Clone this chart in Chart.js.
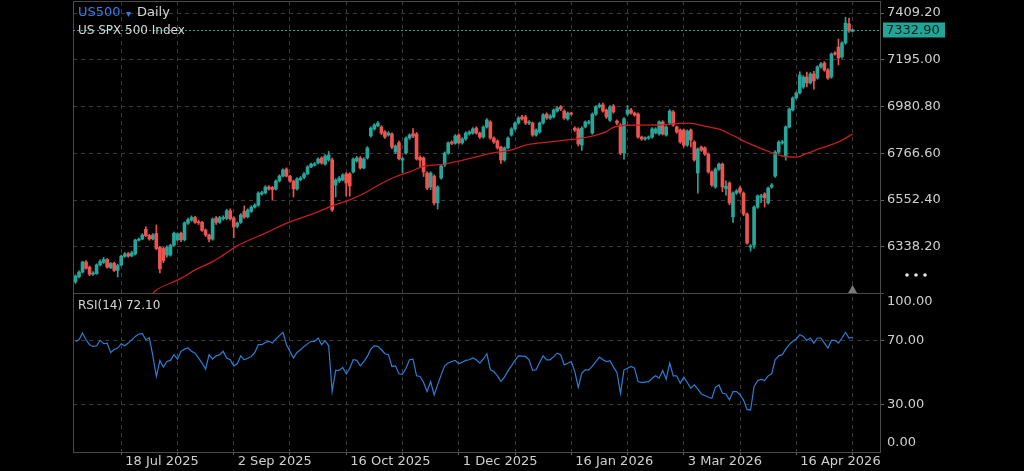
<!DOCTYPE html>
<html>
<head>
<meta charset="utf-8">
<script src="https://cdn.jsdelivr.net/npm/chart.js@4.4.1/dist/chart.umd.min.js"></script>
<style>
  html, body { margin: 0; padding: 0; background: #000; }
  #c { display: block; }
</style>
</head>
<body>
<canvas id="c" width="1024" height="471"></canvas>
<script>
// daily candles, one per bar index (0 = early Jul 2025)
const open = [
  6177,6200,6222,6268,6245,6212,6215,6255,6266,6280,
  6242,6262,6230,6255,6294,6307,6296,6305,6368,6373,
  6418,6390,6374,6399,6335,6330,6300,6300,6345,6370,
  6400,6370,6446,6460,6472,6452,6450,6415,6392,6373,
  6470,6450,6467,6468,6503,6470,6432,6450,6500,6476,
  6500,6520,6529,6580,6585,6612,6610,6603,6640,6662,
  6694,6662,6639,6603,6645,6656,6672,6704,6712,6722,
  6745,6717,6736,6736,6621,6639,6644,6672,6672,6681,
  6731,6745,6699,6745,6846,6878,6892,6887,6864,6850,
  6855,6772,6815,6735,6768,6836,6856,6855,6748,6745,
  6676,6612,6662,6539,6653,6713,6768,6818,6812,6850,
  6814,6832,6855,6859,6882,6859,6841,6887,6910,6836,
  6823,6795,6736,6791,6850,6878,6905,6933,6933,6905,
  6905,6850,6864,6905,6946,6928,6933,6960,6979,6960,
  6924,6951,6882,6878,6804,6887,6905,6859,6946,6979,
  6988,6965,6918,6983,6914,6896,6768,6946,6965,6951,
  6946,6841,6832,6836,6841,6860,6855,6910,6850,6905,
  6956,6887,6873,6873,6804,6873,6818,6676,6795,6791,
  6763,6681,6612,6694,6717,6605,6630,6475,6584,6607,
  6584,6488,6337,6346,6520,6566,6580,6539,6612,6662,
  6772,6814,6750,6887,6965,7020,7043,7070,7116,7089,
  7130,7111,7162,7180,7148,7116,7226,7253,7208,7272,
  7359,7325
];
const high = [
  6210,6228,6272,6275,6250,6225,6260,6278,6290,6284,
  6266,6268,6258,6300,6312,6312,6318,6373,6378,6398,
  6430,6395,6398,6438,6340,6335,6342,6350,6405,6402,
  6405,6452,6470,6480,6478,6460,6455,6420,6396,6470,
  6476,6478,6480,6510,6512,6476,6452,6490,6525,6512,
  6526,6535,6590,6592,6618,6618,6615,6645,6668,6695,
  6700,6666,6643,6655,6660,6678,6710,6722,6724,6746,
  6750,6760,6775,6745,6650,6660,6673,6678,6678,6745,
  6752,6752,6746,6797,6888,6902,6912,6893,6870,6866,
  6860,6805,6822,6748,6842,6856,6880,6862,6755,6750,
  6682,6682,6668,6618,6714,6773,6819,6824,6852,6856,
  6838,6865,6870,6884,6888,6864,6892,6925,6916,6842,
  6828,6800,6796,6842,6884,6910,6934,6940,6940,6916,
  6910,6878,6910,6948,6952,6944,6970,6980,6985,6966,
  6956,6955,6888,6884,6888,6915,6918,6952,6985,6996,
  6996,6970,6985,6990,6920,6902,6930,6985,6972,6956,
  6952,6846,6842,6846,6884,6884,6915,6916,6892,6966,
  6962,6892,6878,6878,6874,6878,6824,6792,6800,6796,
  6768,6686,6700,6722,6722,6640,6636,6590,6600,6614,
  6590,6494,6348,6526,6576,6578,6586,6612,6628,6778,
  6824,6826,6892,6974,7025,7048,7140,7122,7138,7136,
  7142,7168,7182,7186,7154,7226,7232,7290,7278,7390,
  7386,7336
];
const low = [
  6170,6195,6218,6236,6205,6207,6212,6250,6262,6240,
  6238,6225,6200,6250,6290,6290,6292,6300,6364,6370,
  6385,6368,6370,6325,6218,6265,6290,6295,6340,6365,
  6362,6365,6440,6455,6445,6440,6408,6385,6360,6368,
  6440,6445,6460,6462,6460,6380,6425,6445,6468,6470,
  6495,6515,6524,6575,6580,6598,6552,6598,6635,6658,
  6658,6633,6566,6598,6640,6650,6668,6700,6708,6718,
  6716,6712,6730,6500,6566,6632,6640,6570,6570,6676,
  6726,6694,6695,6740,6840,6872,6888,6852,6835,6845,
  6788,6765,6736,6676,6762,6830,6838,6735,6705,6660,
  6600,6600,6530,6511,6648,6706,6762,6806,6808,6808,
  6808,6826,6850,6854,6854,6835,6836,6882,6830,6812,
  6785,6720,6730,6786,6845,6872,6900,6918,6898,6898,
  6844,6845,6858,6900,6922,6922,6928,6955,6962,6922,
  6918,6940,6866,6800,6780,6882,6900,6854,6940,6974,
  6955,6926,6912,6950,6898,6760,6740,6940,6946,6936,
  6836,6826,6826,6830,6836,6855,6850,6850,6845,6900,
  6890,6858,6812,6795,6798,6795,6730,6584,6775,6757,
  6675,6615,6606,6688,6590,6575,6530,6450,6578,6582,
  6480,6350,6318,6330,6514,6540,6520,6533,6606,6656,
  6766,6808,6735,6882,6960,7015,7038,7064,7070,7084,
  7060,7106,7156,7142,7105,7110,7216,7172,7202,7266,
  7320,7322
];
const close = [
  6204,6222,6268,6240,6212,6218,6255,6270,6280,6245,
  6262,6230,6252,6295,6305,6295,6310,6369,6373,6392,
  6389,6374,6392,6330,6237,6275,6336,6345,6400,6397,
  6370,6448,6462,6472,6450,6448,6413,6392,6373,6465,
  6450,6472,6470,6503,6466,6429,6447,6484,6474,6507,
  6520,6529,6584,6586,6612,6603,6600,6639,6662,6690,
  6662,6639,6603,6649,6653,6672,6704,6717,6718,6740,
  6722,6754,6759,6507,6644,6653,6667,6630,6617,6740,
  6745,6699,6740,6791,6882,6896,6905,6859,6841,6859,
  6795,6800,6742,6742,6836,6850,6845,6740,6735,6681,
  6607,6676,6539,6612,6708,6768,6814,6812,6846,6814,
  6832,6859,6864,6878,6859,6841,6887,6919,6836,6818,
  6791,6736,6791,6836,6878,6905,6928,6924,6905,6910,
  6850,6873,6905,6942,6928,6937,6965,6974,6969,6928,
  6951,6946,6873,6809,6882,6910,6910,6946,6979,6988,
  6960,6933,6979,6956,6905,6768,6924,6965,6951,6942,
  6841,6832,6836,6841,6878,6878,6910,6855,6887,6960,
  6896,6864,6818,6804,6868,6827,6736,6786,6781,6763,
  6681,6621,6694,6717,6612,6615,6539,6584,6594,6589,
  6488,6355,6342,6520,6571,6571,6562,6607,6621,6772,
  6818,6818,6887,6969,7020,7043,7125,7116,7089,7130,
  7098,7162,7176,7148,7111,7221,7221,7203,7272,7363,
  7327,7332.9
];

// moving average, read at these bars
const maBars = [22,23,30,34,39,42,46,54,61,68,73,78,82,87,91,95,99,105,109,114,
                118,124,128,133,137,146,151,153,157,165,174,180,183,187,191,196,201,205,208,212,217,221];
const maValues = [6126,6140,6193,6232,6270,6300,6342,6401,6452,6492,6525,6553,6582,6628,6659,6681,6706,6717,6731,6750,
                  6766,6782,6804,6815,6822,6842,6866,6885,6895,6896,6905,6887,6877,6848,6815,6782,6754,6749,6766,6790,6819,6854];

// RSI(14), one per bar
const rsi = [
  69.6,70.6,74.8,70.6,67.5,66.4,66.8,70.2,68.1,68.5,
  62.6,64.5,65.4,68.1,66.8,68.5,70.5,72.7,74.2,74.4,
  70.6,71.7,60.5,47.5,57.6,53.4,56.9,57.6,61.2,58.4,
  63.3,64.7,65.4,63.3,62.2,59.1,55.9,52.1,61.2,58.4,
  60.5,61.2,63.3,59.1,58.0,54.2,55.5,60.5,58.0,59.0,
  60.1,62.6,67.5,67.5,68.9,69.6,68.5,71.1,73.2,75.3,
  67.5,63.3,59.1,62.6,64.3,66.4,68.0,69.6,69.6,71.7,
  67.5,70.0,66.8,38.0,51.3,51.3,53.2,49.2,52.7,58.0,
  57.6,54.2,56.9,60.1,64.7,66.8,66.4,64.3,61.8,61.2,
  53.8,54.2,49.2,48.9,52.7,58.0,58.4,47.9,47.5,43.7,
  38.0,44.3,35.9,42.2,48.5,54.2,56.0,56.9,57.6,55.5,
  56.5,57.6,58.0,59.1,58.0,55.9,58.5,61.8,51.7,50.6,
  47.9,44.3,47.1,51.0,54.2,57.6,60.5,60.3,60.1,58.0,
  51.3,51.7,56.3,60.5,58.0,58.0,60.0,62.2,61.2,54.8,
  55.8,56.9,50.6,40.7,49.6,51.7,51.7,54.0,56.9,59.7,
  58.0,56.9,57.4,53.4,50.0,36.9,51.7,52.7,53.8,52.7,
  44.3,43.7,44.0,44.3,46.4,47.9,46.4,51.3,45.8,55.9,
  47.9,47.9,43.3,47.1,43.7,40.1,42.2,39.5,36.5,35.5,
  34.4,33.8,40.7,42.2,36.9,36.5,32.7,38.0,38.0,36.0,
  32.7,26.8,26.4,41.2,44.9,45.8,44.9,47.9,49.2,58.0,
  60.5,61.2,64.7,67.5,69.6,71.1,73.8,72.7,70.2,71.7,
  68.5,71.7,71.7,68.5,65.4,70.2,70.2,68.5,71.7,75.3,
  71.7,72.1
];

// axis ticks
const priceTicks = [6338.2, 6552.4, 6766.6, 6980.8, 7195.0, 7409.2];
const rsiTicks = [0, 30, 70, 100];
const gridBars = [13,29,45,61,77,93,109,125,141,157,173,189,205,221];
const labelBars = [13, 45, 77, 109, 141, 173, 205];
const xLabels = ['18 Jul 2025', '2 Sep 2025', '16 Oct 2025', '1 Dec 2025', '16 Jan 2026', '3 Mar 2026', '16 Apr 2026'];

const UP = '#26a69a', DOWN = '#ef5350';
const GRID = '#3a3a3a', LINE = '#4a4a4a', TXT = '#cfcfcf';
const FONT = '"DejaVu Sans", sans-serif';

Chart.defaults.font.family = FONT;
Chart.defaults.font.size = 13;
Chart.defaults.color = TXT;

const idx = close.map((c, i) => i);
const candleColors = close.map((c, i) => c >= open[i] ? UP : DOWN);

const overlay = {
  id: 'overlay',
  afterDraw(chart) {
    const { ctx, chartArea: a, scales } = chart;
    const py = scales.y, ry = scales.rsi;
    const last = close[close.length - 1];
    const ly = Math.round(py.getPixelForValue(last)) + 0.5;
    ctx.save();

    // frame + pane divider
    ctx.strokeStyle = LINE;
    ctx.lineWidth = 1;
    ctx.beginPath();
    ctx.moveTo(a.left + 0.5, a.bottom);
    ctx.lineTo(a.left + 0.5, a.top + 0.5);
    ctx.lineTo(a.right, a.top + 0.5);
    ctx.moveTo(a.left, Math.round(py.bottom) + 0.5);
    ctx.lineTo(a.right + 4, Math.round(py.bottom) + 0.5);
    ctx.stroke();

    // last price line + tag
    ctx.strokeStyle = UP;
    ctx.setLineDash([2, 2]);
    ctx.beginPath();
    ctx.moveTo(a.left, ly);
    ctx.lineTo(a.right, ly);
    ctx.stroke();
    ctx.setLineDash([]);
    ctx.fillStyle = '#22a596';
    ctx.fillRect(a.right + 3, ly - 8, 62, 15);
    ctx.font = '13px ' + FONT;
    ctx.textBaseline = 'middle';
    ctx.textAlign = 'left';
    ctx.fillStyle = '#0b2420';
    ctx.fillText(last.toFixed(2), a.right + 6, ly);

    // RSI pane end labels
    ctx.fillStyle = TXT;
    ctx.fillText('100.00', a.right + 7, ry.getPixelForValue(100) + 9);
    ctx.fillText('0.00', a.right + 7, ry.getPixelForValue(0) - 9);

    // titles
    ctx.fillStyle = '#2f80ed';
    ctx.fillText('US500', a.left + 5, 13);
    ctx.font = '10px ' + FONT;
    ctx.fillText('▾', a.left + 53, 14);
    ctx.font = '13px ' + FONT;
    ctx.fillStyle = '#d6d6d6';
    ctx.fillText('Daily', a.left + 64, 13);
    ctx.font = '12px ' + FONT;
    ctx.fillText('US SPX 500 Index', a.left + 5, ly);
    ctx.fillText('RSI(14) ' + rsi[rsi.length - 1].toFixed(2), a.left + 5, ry.top + 13);

    // pane menu dots and collapse marker
    ctx.fillStyle = '#e8e8e8';
    for (let k = 0; k < 3; k++) {
      ctx.beginPath();
      ctx.arc(a.right + 27 + k * 9, 275, 1.8, 0, Math.PI * 2);
      ctx.fill();
    }
    ctx.fillStyle = '#7a7a7a';
    const tx = scales.x.getPixelForValue(idx[idx.length - 1]);
    ctx.beginPath();
    ctx.moveTo(tx - 4.5, py.bottom);
    ctx.lineTo(tx, py.bottom - 8);
    ctx.lineTo(tx + 4.5, py.bottom);
    ctx.closePath();
    ctx.fill();
    ctx.restore();
  }
};

new Chart(document.getElementById('c'), {
  type: 'bar',
  data: {
    datasets: [
      {
        type: 'line',
        label: 'MA',
        data: maBars.map((b, k) => ({ x: b, y: maValues[k] })),
        yAxisID: 'y',
        borderColor: '#c81e1e',
        borderWidth: 1.3,
        pointRadius: 0,
        cubicInterpolationMode: 'monotone',
        order: 0
      },
      {
        label: 'Body',
        data: idx.map(i => ({ x: i, y: [open[i], close[i]] })),
        yAxisID: 'y',
        backgroundColor: candleColors,
        barThickness: 3,
        minBarLength: 1,
        grouped: false,
        order: 1
      },
      {
        label: 'Wick',
        data: idx.map(i => ({ x: i, y: [low[i], high[i]] })),
        yAxisID: 'y',
        backgroundColor: candleColors,
        barThickness: 1,
        grouped: false,
        order: 2
      },
      {
        type: 'line',
        label: 'RSI',
        data: rsi.map((v, i) => ({ x: i, y: v })),
        yAxisID: 'rsi',
        borderColor: '#2a7fd5',
        borderWidth: 1.2,
        pointRadius: 0,
        tension: 0,
        order: 0
      }
    ]
  },
  options: {
    responsive: false,
    animation: false,
    events: [],
    layout: { padding: { left: 73, top: 1, right: 0, bottom: 0 }, autoPadding: false },
    plugins: { legend: { display: false }, tooltip: { enabled: false } },
    scales: {
      x: {
        type: 'linear',
        min: -0.711,
        max: 228.81,
        offset: false,
        afterBuildTicks: s => { s.ticks = gridBars.map(v => ({ value: v })); },
        afterFit: s => { s.height = 19; s.paddingLeft = 0; s.paddingRight = 0; },
        ticks: {
          autoSkip: false,
          maxRotation: 0,
          align: 'start',
          labelOffset: 4,
          padding: 0,
          font: { size: 13, lineHeight: 1 },
          callback: v => {
            const k = labelBars.indexOf(v);
            return k >= 0 ? xLabels[k] : '';
          }
        },
        grid: { color: GRID, offset: false, tickLength: 3, tickColor: '#666' },
        border: { color: LINE, dash: [4, 4] }
      },
      y: {
        type: 'linear',
        position: 'right',
        stack: 'panes',
        stackWeight: 292,
        min: 6126.3,
        max: 7464.2,
        afterBuildTicks: s => { s.ticks = priceTicks.map(v => ({ value: v })); },
        afterFit: s => { s.width = 144; s.paddingTop = 0; s.paddingBottom = 0; },
        ticks: { padding: 3, callback: v => v.toFixed(2) },
        grid: { color: GRID, tickLength: 4, tickColor: '#666' },
        border: { color: LINE, dash: [4, 4] }
      },
      rsi: {
        type: 'linear',
        position: 'right',
        stack: 'panes',
        stackWeight: 159,
        min: 0,
        max: 100,
        afterBuildTicks: s => { s.ticks = rsiTicks.map(v => ({ value: v })); },
        afterFit: s => { s.width = 144; s.paddingTop = 0; s.paddingBottom = 0; },
        ticks: {
          padding: 3,
          callback: v => (v === 30 || v === 70) ? v.toFixed(2) : ''
        },
        grid: {
          color: c => (c.tick && (c.tick.value === 30 || c.tick.value === 70)) ? GRID : 'rgba(0,0,0,0)',
          tickLength: 4,
          tickColor: c => (c.tick && (c.tick.value === 30 || c.tick.value === 70)) ? '#666' : 'rgba(0,0,0,0)'
        },
        border: { color: LINE, dash: [4, 4] }
      }
    }
  },
  plugins: [overlay]
});
</script>
</body>
</html>
